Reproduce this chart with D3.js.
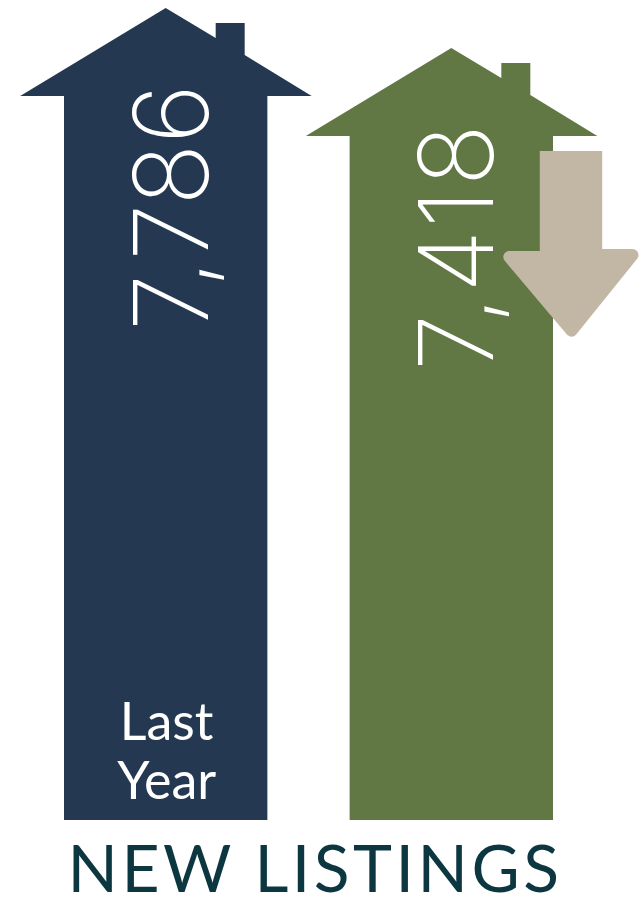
<!DOCTYPE html>
<html>
<head>
<meta charset="utf-8">
<script src="https://cdn.jsdelivr.net/npm/d3@7"></script>
<style>
html,body{margin:0;padding:0;background:#fff;}
svg{display:block;}
text{font-family:"Lato",sans-serif;}
</style>
</head>
<body>
<svg id="chart" width="643" height="897"></svg>
<script>
// New listings, last year against this year, drawn as two house-shaped columns.
const periods = ["Last Year", "This Year"];
const listings = [7786, 7418];
const houseColors = ["#253852", "#617844"];
const captionLines = ["Last", "Year"];
const chartTitle = "NEW LISTINGS";

const svg = d3.select("#chart");

const x = d3.scaleBand().domain(periods).range([64, 553]).paddingInner(0.288);
// Roof peaks sit on this scale; the columns stand on a floor slightly above zero.
const y = d3.scaleLinear().domain([316, 7786]).range([820, 8]);
const fmt = d3.format(",");

// Outline of one house: roof, chimney and column, relative to the peak height.
function housePath(period, value) {
  const left = x(period), right = left + x.bandwidth(), cx = (left + right) / 2;
  const peak = y(value), eave = peak + 88, floor = y.range()[0];
  const p = d3.path();
  p.moveTo(cx, peak);
  p.lineTo(cx + 50, peak + 30);
  p.lineTo(cx + 50, peak + 15);
  p.lineTo(cx + 79, peak + 15);
  p.lineTo(cx + 79, peak + 47);
  p.lineTo(cx + 146, eave);
  p.lineTo(right, eave);
  p.lineTo(right, floor);
  p.lineTo(left, floor);
  p.lineTo(left, eave);
  p.lineTo(cx - 145.5, eave);
  p.closePath();
  return p.toString();
}

svg.selectAll("path.house")
  .data(periods)
  .join("path")
  .attr("class", "house")
  .attr("fill", (d, i) => houseColors[i])
  .attr("d", (d, i) => housePath(d, listings[i]));

// Values, set vertically inside each column and stretched to one common length.
svg.selectAll("text.value")
  .data(periods)
  .join("text")
  .attr("class", "value")
  .attr("transform", (d, i) => {
    const cx = x(d) + x.bandwidth() / 2;
    return `translate(${cx + 42},${y(listings[i]) + 323}) rotate(-90)`;
  })
  .attr("fill", "#fff")
  .attr("font-size", 103)
  .attr("font-weight", 250)
  .attr("textLength", 247)
  .attr("lengthAdjust", "spacing")
  .style("font-family", "Inter, sans-serif")
  .text((d, i) => fmt(listings[i]));

// Downward arrow marking the drop, with softened head corners.
const arrowX = x(periods[1]) + x.bandwidth() + 18;
const arrowTop = y(listings[1]) + 103;
const arrow = d3.path();
arrow.moveTo(arrowX - 25.2, arrowTop);
arrow.lineTo(arrowX + 25.2, arrowTop);
arrow.lineTo(arrowX + 25.2, arrowTop + 104);
arrow.lineTo(arrowX + 61.5, arrowTop + 104);
arrow.lineTo(arrowX + 0.5, arrowTop + 179.7);
arrow.lineTo(arrowX - 61.7, arrowTop + 106);
arrow.lineTo(arrowX - 25.2, arrowTop + 106);
arrow.closePath();
svg.append("clipPath").attr("id", "arrowClip")
  .append("rect")
  .attr("x", 0).attr("y", arrowTop)
  .attr("width", 643).attr("height", 300);
svg.append("path")
  .attr("d", arrow.toString())
  .attr("fill", "#c2b7a5")
  .attr("stroke", "#c2b7a5")
  .attr("stroke-width", 12)
  .attr("stroke-linejoin", "round")
  .attr("clip-path", "url(#arrowClip)");

svg.selectAll("text.caption")
  .data(captionLines)
  .join("text")
  .attr("class", "caption")
  .attr("x", x(periods[0]) + x.bandwidth() / 2 + 1)
  .attr("y", (d, i) => 740 + i * 59)
  .attr("text-anchor", "middle")
  .attr("fill", "#fff")
  .attr("font-size", 52)
  .text(d => d);

svg.append("text")
  .attr("x", 315)
  .attr("y", 892)
  .attr("text-anchor", "middle")
  .attr("fill", "#0c3640")
  .attr("font-size", 66)
  .attr("letter-spacing", 3.5)
  .text(chartTitle);
</script>
</body>
</html>
